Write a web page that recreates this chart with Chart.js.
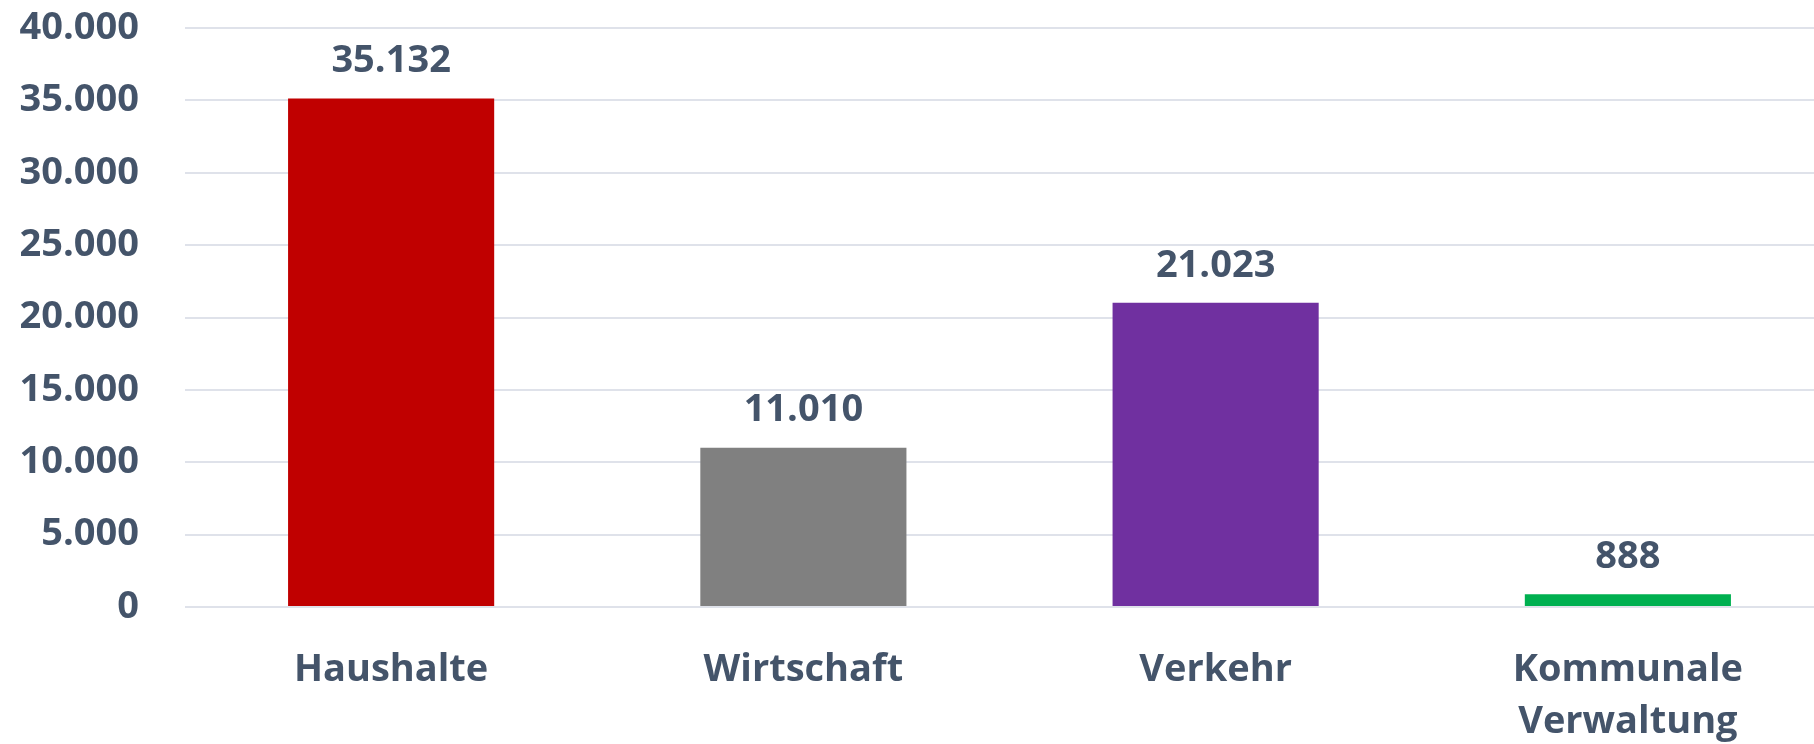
<!DOCTYPE html>
<html>
<head>
<meta charset="utf-8">
<script src="https://cdn.jsdelivr.net/npm/chart.js@4.4.1/dist/chart.umd.min.js"></script>
<style>
  html, body { margin: 0; padding: 0; background: #fff; overflow: hidden; }
  #wrap { width: 1850px; height: 744px; }
</style>
</head>
<body>
<div id="wrap"><canvas id="emissionsChart" width="1850" height="744"></canvas></div>
<script>
// Chart data
const categories = ['Haushalte', 'Wirtschaft', 'Verkehr', ['Kommunale', 'Verwaltung']];
const values = [35132, 11010, 21023, 888];
const barColors = ['#C00000', '#808080', '#7030A0', '#00B050'];
const yTicks = [0, 5000, 10000, 15000, 20000, 25000, 30000, 35000, 40000];

const textColor = '#44546A';
const fontFamily = '"Open Sans", "DejaVu Sans", sans-serif';

// German thousands separator
function fmt(n) {
    return String(Math.round(n)).replace(/\B(?=(\d{3})+(?!\d))/g, '.');
}

// Draw the value above each bar
const valueLabels = {
    id: 'valueLabels',
    afterDatasetsDraw(chart) {
        const ctx = chart.ctx;
        const meta = chart.getDatasetMeta(0);
        ctx.save();
        ctx.font = 'bold 38px ' + fontFamily;
        ctx.fillStyle = textColor;
        ctx.textAlign = 'center';
        ctx.textBaseline = 'middle';
        meta.data.forEach((bar, i) => {
            ctx.fillText(fmt(values[i]), bar.x, bar.y - 37);
        });
        ctx.restore();
    }
};

const ctx = document.getElementById('emissionsChart').getContext('2d');
new Chart(ctx, {
    type: 'bar',
    data: {
        labels: categories,
        datasets: [{
            data: values,
            backgroundColor: barColors,
            borderWidth: 0,
            barPercentage: 1,
            categoryPercentage: 0.5
        }]
    },
    options: {
        responsive: false,
        animation: false,
        devicePixelRatio: 1,
        layout: { padding: { top: 0, right: 16, bottom: 0, left: 0 } },
        plugins: {
            legend: { display: false },
            tooltip: { enabled: false }
        },
        scales: {
            x: {
                grid: { display: false, drawTicks: false },
                border: { display: false },
                ticks: {
                    color: textColor,
                    padding: 37,
                    maxRotation: 0,
                    font: { family: fontFamily, size: 38, weight: 'bold', lineHeight: 1.37 }
                },
                afterFit: s => { s.height = 137; }
            },
            y: {
                min: 0,
                max: 40000,
                afterBuildTicks: s => { s.ticks = yTicks.map(v => ({ value: v })); },
                grid: { color: '#dfe2ea', lineWidth: 2, drawTicks: false },
                border: { display: false },
                ticks: {
                    color: textColor,
                    padding: 46,
                    font: { family: fontFamily, size: 38, weight: 'bold' },
                    callback: v => fmt(v)
                },
                afterFit: s => {
                    s.width = 185;
                    s.paddingTop = 28;
                    s.paddingBottom = 0;
                }
            }
        }
    },
    plugins: [valueLabels]
});
</script>
</body>
</html>
